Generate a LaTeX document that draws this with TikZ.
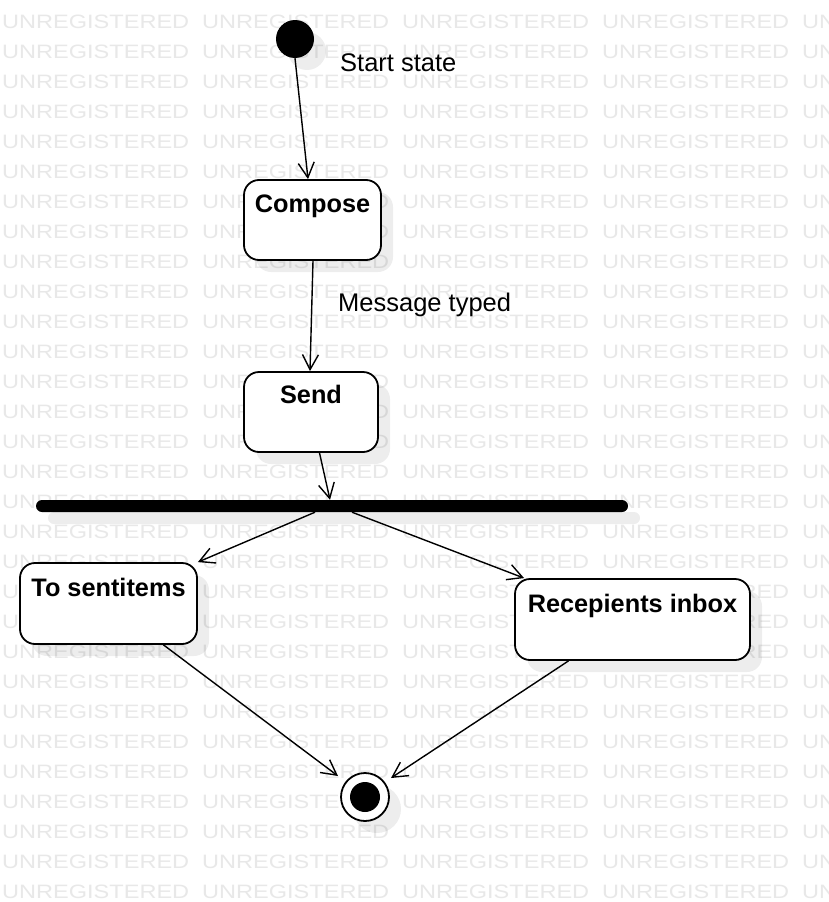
\documentclass[tikz,border=0pt]{standalone}
\usepackage{fontspec}
\setmainfont{Liberation Sans}
\usetikzlibrary{arrows.meta,calc,shadows}
\begin{document}
\begin{tikzpicture}[x=1pt,y=-1pt,
  wm/.style={text=black!9, inner sep=0, anchor=base west},
  shad/.style={drop shadow={shadow xshift=12pt, shadow yshift=-12pt, opacity=0.07, fill=black}},
  statebox/.style={draw, line width=1.8, rounded corners=15, fill=white, inner sep=0, shad},
  stxt/.style={anchor=base, inner sep=0, font=\fontsize{25.3}{30}\selectfont\bfseries},
  lbl/.style={anchor=base west, inner sep=0, font=\fontsize{25.5}{30}\selectfont},
  conn/.style={line width=1.4, -{Straight Barb[length=15pt,width=16pt]}},
  startdot/.style={circle, fill=black, minimum size=38, inner sep=0, shad},
  endring/.style={circle, draw, line width=1.8, fill=white, minimum size=48, inner sep=0, shad},
  enddot/.style={circle, fill=black, minimum size=30, inner sep=0},
  forkbar/.style={rectangle, fill=black, minimum width=592, minimum height=12, rounded corners=6, inner sep=0, shad}
]
\useasboundingbox (0,0) rectangle (828,902);
\begin{scope}
  \clip (0,0) rectangle (828,902);
  \fill[white] (0,0) rectangle (828,902);
  \foreach \r in {0,...,29} {
    \foreach \c in {0,...,4} {
      \node[wm] (wm-\r-\c) at (200*\c+2, 28+30*\r) {\resizebox{187pt}{13.5pt}{\fontsize{18}{20}\selectfont UNREGISTERED}};
    }
  }
\end{scope}

% nodes
\node[startdot] (start) at (295,39) {};
\node[statebox, minimum width=137, minimum height=80] (compose) at (312.5,220) {};
\node[statebox, minimum width=134, minimum height=80] (send) at (311,412) {};
\node[forkbar] (bar) at (332,506) {};
\node[statebox, minimum width=177, minimum height=81] (sent) at (108.5,603.5) {};
\node[statebox, minimum width=235, minimum height=81] (inbox) at (632.5,619.5) {};
\node[endring] (final) at (365,797) {};
\node[enddot] (finaldot) at (final) {};

% texts
\node[stxt] (composetxt) at ($(compose.north)+(0,33)$) {Compose};
\node[stxt] (sendtxt) at ($(send.north)+(0,32)$) {Send};
\node[stxt] (senttxt) at ($(sent.north)+(0,34)$) {To sentitems};
\node[stxt] (inboxtxt) at ($(inbox.north)+(0,34)$) {Recepients inbox};
\node[lbl] (startlbl) at (340,71) {Start state};
\node[lbl] (msglbl) at (338,311) {Message typed};

% connectors
\draw[conn] (start.south) -- ([xshift=-4.5pt]compose.north);
\draw[conn] ([xshift=0.5pt]compose.south) -- ([xshift=-1pt]send.north);
\draw[conn] ([xshift=8.5pt]send.south) -- ([xshift=-2pt]bar.north);
\draw[conn] ([xshift=-17pt]bar.south) -- (sent.north east);
\draw[conn] ([xshift=20pt]bar.south) -- ([xshift=10pt]inbox.north west);
\draw[conn] ([xshift=55pt]sent.south) -- ($(final)+(-27,-21)$);
\draw[conn] ([xshift=-64pt]inbox.south) -- ($(final)+(26,-19)$);
\end{tikzpicture}
\end{document}
